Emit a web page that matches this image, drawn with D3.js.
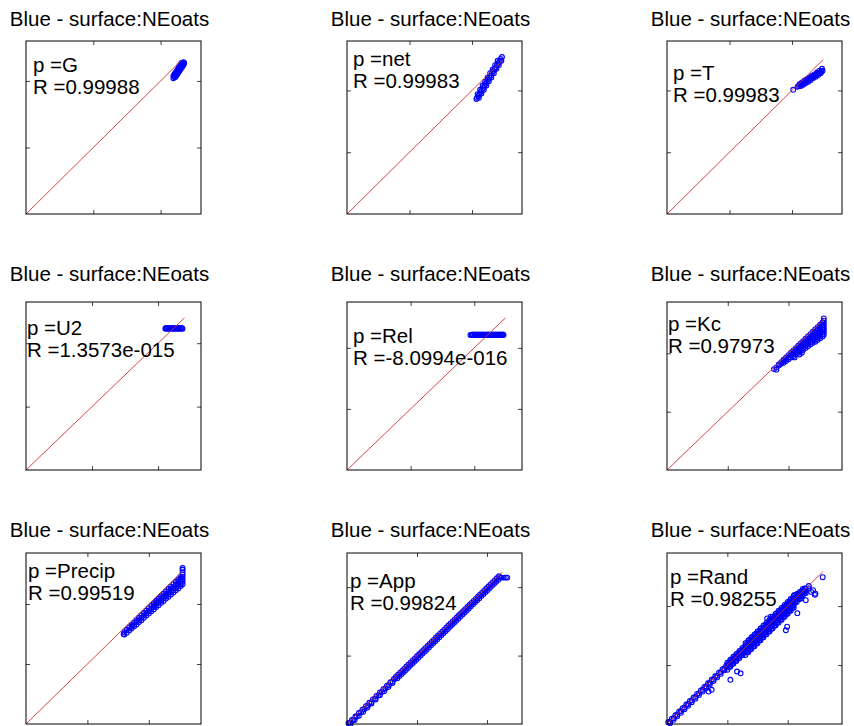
<!DOCTYPE html>
<html>
<head>
<meta charset="utf-8">
<script src="https://cdn.jsdelivr.net/npm/d3@7"></script>
<style>
  body { margin: 0; background: #fff; }
  svg { display: block; font-family: "Liberation Sans", Arial, sans-serif; }
</style>
</head>
<body>
<div id="chart"></div>
<script>
// Panel texts
var titleText = "Blue - surface:NEoats";
var params = ["G", "net", "T", "U2", "Rel", "Kc", "Precip", "App", "Rand"];
var rValues = ["0.99988", "0.99983", "0.99983", "1.3573e-015", "-8.0994e-016",
  "0.97973", "0.99519", "0.99824", "0.98255"];

// Axis limits (both axes start at 0), tick values and 1:1 reference line end
var axisMax = [2.6, 2.8, 2.8, 2.65, 2.75, 2.88, 2.85, 2.5, 2.9];
var lineEnd = [2.31, 2.49, 2.5, 2.4, 2.49, 2.6, 2.55, 2.22, 2.58];
var tickValues = [1, 2];

// Scatter values [x, y]
var pointsG = [[2.19,2.04],[2.20,2.06],[2.21,2.07],[2.22,2.09],[2.23,2.10],[2.24,2.12],[2.25,2.14],
  [2.26,2.15],[2.27,2.17],[2.28,2.18],[2.29,2.20],[2.30,2.22],[2.31,2.23],[2.32,2.25],[2.33,2.26],
  [2.34,2.28],
  [2.19,2.08],[2.21,2.11],[2.23,2.14],[2.25,2.17],[2.27,2.21],[2.29,2.24],[2.31,2.27],
  [2.22,2.06],[2.24,2.09],[2.26,2.12],[2.28,2.15],[2.30,2.18],[2.32,2.21],[2.34,2.24],[2.35,2.27]];

var pointsNet = [[2.07,1.86],[2.08,1.88],[2.10,1.91],[2.12,1.94],[2.14,1.98],[2.16,2.01],[2.18,2.04],
  [2.20,2.08],[2.22,2.11],[2.24,2.14],[2.26,2.18],[2.28,2.21],[2.30,2.24],[2.32,2.28],[2.34,2.31],
  [2.36,2.34],[2.38,2.37],[2.40,2.41],[2.42,2.44],[2.44,2.47],[2.46,2.51],[2.48,2.54],
  [2.11,1.88],[2.15,1.95],[2.19,2.01],[2.23,2.08],[2.27,2.15],[2.31,2.21],[2.35,2.28],[2.39,2.35],
  [2.43,2.41],[2.47,2.48],
  [2.09,1.94],[2.13,2.01],[2.17,2.08],[2.21,2.14],[2.25,2.21],[2.29,2.28],[2.33,2.34],[2.37,2.41],
  [2.41,2.48]];

var pointsT = [[2.02,2.01],[2.09,2.06],[2.11,2.07],[2.13,2.09],[2.15,2.10],[2.17,2.11],[2.19,2.12],
  [2.21,2.14],[2.23,2.15],[2.25,2.16],[2.27,2.18],[2.29,2.19],[2.31,2.20],[2.33,2.22],[2.35,2.23],
  [2.37,2.24],[2.39,2.26],[2.41,2.27],[2.43,2.28],[2.45,2.29],[2.47,2.31],[2.49,2.32],
  [2.12,2.10],[2.16,2.13],[2.20,2.16],[2.24,2.18],[2.28,2.21],[2.32,2.24],[2.36,2.26],[2.40,2.29],
  [2.44,2.32],[2.48,2.35],
  [2.14,2.07],[2.18,2.09],[2.22,2.12],[2.26,2.14],[2.30,2.17],[2.34,2.20],[2.38,2.22],[2.42,2.25],
  [2.46,2.28]];

var pointsU2 = [[2.11,2.23],[2.13,2.23],[2.15,2.23],[2.17,2.23],[2.19,2.23],[2.21,2.23],[2.23,2.23],
  [2.25,2.23],[2.27,2.23],[2.29,2.23],[2.31,2.23],[2.33,2.23],[2.35,2.23],[2.37,2.23],
  [2.12,2.24],[2.16,2.24],[2.20,2.24],[2.24,2.24],[2.28,2.24],[2.32,2.24],[2.36,2.24]];

var pointsRel = [[1.94,2.21],[1.96,2.21],[1.98,2.21],[2.00,2.21],[2.02,2.21],[2.04,2.21],[2.06,2.21],
  [2.08,2.21],[2.10,2.21],[2.12,2.21],[2.14,2.21],[2.16,2.21],[2.18,2.21],[2.20,2.21],[2.22,2.21],
  [2.24,2.21],[2.26,2.21],[2.28,2.21],[2.30,2.21],[2.32,2.21],[2.34,2.21],[2.36,2.21],[2.38,2.21],
  [2.40,2.21],[2.42,2.21],[2.44,2.21],[2.46,2.21],
  [1.97,2.22],[2.01,2.22],[2.05,2.22],[2.09,2.22],[2.13,2.22],[2.17,2.22],[2.21,2.22],[2.25,2.22],
  [2.29,2.22],[2.33,2.22],[2.37,2.22],[2.41,2.22],[2.45,2.22]];

var pointsKc = [[1.76,1.73],[1.80,1.76],[1.84,1.79],[1.84,1.81],[1.88,1.82],[1.88,1.85],
  [1.92,1.84],[1.92,1.87],[1.92,1.89],[1.96,1.87],[1.96,1.90],[1.96,1.93],
  [2.00,1.90],[2.00,1.93],[2.00,1.97],[2.04,1.93],[2.04,1.97],[2.04,2.01],
  [2.08,1.95],[2.08,1.99],[2.08,2.02],[2.08,2.05],[2.12,1.98],[2.12,2.02],[2.12,2.06],[2.12,2.09],
  [2.16,2.01],[2.16,2.05],[2.16,2.09],[2.16,2.13],[2.20,2.04],[2.20,2.08],[2.20,2.12],[2.20,2.17],
  [2.24,2.06],[2.24,2.10],[2.24,2.14],[2.24,2.18],[2.24,2.21],
  [2.28,2.09],[2.28,2.13],[2.28,2.17],[2.28,2.21],[2.28,2.25],
  [2.32,2.12],[2.32,2.16],[2.32,2.20],[2.32,2.25],[2.32,2.29],
  [2.36,2.15],[2.36,2.19],[2.36,2.23],[2.36,2.28],[2.36,2.33],
  [2.40,2.18],[2.40,2.22],[2.40,2.26],[2.40,2.30],[2.40,2.34],[2.40,2.37],
  [2.44,2.20],[2.44,2.24],[2.44,2.28],[2.44,2.32],[2.44,2.36],[2.44,2.41],
  [2.48,2.23],[2.48,2.27],[2.48,2.31],[2.48,2.35],[2.48,2.40],[2.48,2.45],
  [2.52,2.26],[2.52,2.30],[2.52,2.34],[2.52,2.38],[2.52,2.42],[2.52,2.46],[2.52,2.49],
  [2.56,2.29],[2.56,2.33],[2.56,2.37],[2.56,2.41],[2.56,2.45],[2.56,2.49],[2.56,2.53],
  [2.58,2.32],[2.58,2.36],[2.58,2.40],[2.58,2.44],[2.58,2.48],[2.58,2.52],[2.58,2.56],[2.58,2.60],
  [2.10,1.93],[2.18,1.98],[2.22,2.01],[1.80,1.72]];

var pointsPrecip = [[1.59,1.50],[1.60,1.49],[1.60,1.53],[1.64,1.52],[1.64,1.57],[1.68,1.56],[1.68,1.61],
  [1.72,1.59],[1.72,1.62],[1.72,1.65],[1.76,1.63],[1.76,1.66],[1.76,1.69],
  [1.80,1.66],[1.80,1.70],[1.80,1.73],[1.84,1.70],[1.84,1.73],[1.84,1.77],
  [1.88,1.73],[1.88,1.77],[1.88,1.81],[1.92,1.77],[1.92,1.81],[1.92,1.85],
  [1.96,1.81],[1.96,1.85],[1.96,1.89],[2.00,1.84],[2.00,1.88],[2.00,1.93],
  [2.04,1.88],[2.04,1.92],[2.04,1.97],[2.08,1.91],[2.08,1.95],[2.08,1.98],[2.08,2.01],
  [2.12,1.95],[2.12,1.98],[2.12,2.02],[2.12,2.05],[2.16,1.98],[2.16,2.02],[2.16,2.06],[2.16,2.09],
  [2.20,2.02],[2.20,2.06],[2.20,2.10],[2.20,2.13],[2.24,2.05],[2.24,2.09],[2.24,2.13],[2.24,2.17],
  [2.28,2.09],[2.28,2.13],[2.28,2.17],[2.28,2.21],[2.32,2.12],[2.32,2.16],[2.32,2.21],[2.32,2.25],
  [2.36,2.16],[2.36,2.20],[2.36,2.25],[2.36,2.29],[2.40,2.19],[2.40,2.23],[2.40,2.28],[2.40,2.33],
  [2.44,2.23],[2.44,2.27],[2.44,2.32],[2.44,2.37],
  [2.48,2.26],[2.48,2.30],[2.48,2.34],[2.48,2.38],[2.48,2.41],
  [2.52,2.30],[2.52,2.34],[2.52,2.38],[2.52,2.42],[2.52,2.45],
  [2.55,2.33],[2.55,2.37],[2.55,2.41],[2.55,2.45],[2.55,2.49],[2.55,2.53],[2.55,2.57],[2.55,2.60]];

var pointsApp = [[0.02,0.01],[0.07,0.06],[0.12,0.11],[0.17,0.16],[0.22,0.21],[0.27,0.26],[0.32,0.31],
  [0.37,0.36],[0.42,0.41],[0.47,0.46],[0.52,0.51],[0.57,0.56],[0.62,0.61],[0.67,0.66],
  [0.05,0.00],[0.11,0.06],[0.17,0.12],[0.23,0.18],[0.29,0.24],[0.35,0.30],[0.41,0.36],[0.47,0.42],
  [0.53,0.48],[0.59,0.54],[0.65,0.60],
  [0.04,0.02],[0.09,0.06],[0.14,0.11],[0.20,0.17],[0.25,0.22],[0.30,0.27],[0.35,0.32],[0.40,0.37],
  [0.45,0.42],[0.50,0.47],[0.55,0.52],[0.60,0.57],[0.65,0.62],[0.69,0.66],
  [0.70,0.69],[0.73,0.72],[0.76,0.75],[0.79,0.78],[0.82,0.81],[0.85,0.84],[0.88,0.87],[0.91,0.90],
  [0.94,0.93],[0.97,0.96],[1.00,0.99],[1.03,1.02],[1.06,1.05],[1.09,1.08],[1.12,1.11],[1.15,1.14],
  [1.18,1.17],[1.21,1.20],[1.24,1.23],[1.27,1.26],[1.30,1.29],[1.33,1.32],[1.36,1.35],[1.39,1.38],
  [1.42,1.41],[1.45,1.44],[1.48,1.47],[1.51,1.50],[1.54,1.53],[1.57,1.56],[1.60,1.59],[1.63,1.62],
  [1.66,1.65],[1.69,1.68],[1.72,1.71],[1.75,1.74],[1.78,1.77],[1.81,1.80],[1.84,1.83],[1.87,1.86],
  [1.90,1.89],[1.93,1.92],[1.96,1.95],[1.99,1.98],[2.02,2.01],[2.05,2.04],[2.08,2.07],[2.11,2.10],
  [2.14,2.13],[2.17,2.16],
  [0.72,0.67],[0.75,0.70],[0.78,0.73],[0.81,0.76],[0.84,0.79],[0.87,0.82],[0.90,0.85],[0.93,0.88],
  [0.96,0.91],[0.99,0.94],[1.02,0.97],[1.05,1.00],[1.08,1.03],[1.11,1.06],[1.14,1.09],[1.17,1.12],
  [1.20,1.15],[1.23,1.18],[1.26,1.21],[1.29,1.24],[1.32,1.27],[1.35,1.30],[1.38,1.33],[1.41,1.36],
  [1.44,1.39],[1.47,1.42],[1.50,1.45],[1.53,1.48],[1.56,1.51],[1.59,1.54],[1.62,1.57],[1.65,1.60],
  [1.68,1.63],[1.71,1.66],[1.74,1.69],[1.77,1.72],[1.80,1.75],[1.83,1.78],[1.86,1.81],[1.89,1.84],
  [1.92,1.87],[1.95,1.90],[1.98,1.93],[2.01,1.96],[2.04,1.99],[2.07,2.02],[2.10,2.05],[2.13,2.08],
  [2.16,2.11],
  [2.19,2.14],[2.21,2.14],[2.24,2.14],[2.27,2.14],[2.29,2.14]];

var pointsRand = [[0.02,0.03],[0.08,0.09],[0.14,0.15],[0.20,0.21],[0.26,0.27],[0.32,0.33],[0.38,0.39],
  [0.44,0.45],[0.50,0.51],[0.56,0.57],[0.62,0.63],[0.68,0.69],[0.74,0.75],[0.80,0.81],[0.86,0.87],
  [0.92,0.93],[0.98,0.99],
  [0.05,0.01],[0.11,0.07],[0.17,0.13],[0.23,0.19],[0.29,0.25],[0.35,0.31],[0.41,0.37],[0.47,0.43],
  [0.53,0.49],[0.59,0.55],[0.65,0.61],[0.71,0.67],[0.77,0.73],[0.83,0.79],[0.89,0.85],[0.95,0.91],
  [0.05,0.04],[0.11,0.10],[0.17,0.16],[0.23,0.22],[0.29,0.28],[0.35,0.34],[0.41,0.40],[0.47,0.46],
  [0.53,0.52],[0.59,0.58],[0.65,0.64],[0.71,0.70],[0.77,0.76],[0.83,0.82],[0.89,0.88],[0.95,0.94],
  [1.00,0.92],[1.00,0.96],[1.00,1.00],[1.00,1.04],[1.05,0.97],[1.05,1.01],[1.05,1.05],[1.05,1.09],
  [1.10,1.02],[1.10,1.06],[1.10,1.10],[1.10,1.14],[1.15,1.07],[1.15,1.11],[1.15,1.15],[1.15,1.19],
  [1.20,1.12],[1.20,1.16],[1.20,1.20],[1.20,1.24],[1.25,1.17],[1.25,1.21],[1.25,1.25],[1.25,1.29],
  [1.03,0.97],[1.03,1.01],[1.03,1.05],[1.08,1.02],[1.08,1.06],[1.08,1.10],[1.13,1.07],[1.13,1.11],
  [1.13,1.15],[1.18,1.12],[1.18,1.16],[1.18,1.20],[1.23,1.17],[1.23,1.21],[1.23,1.25],[1.28,1.22],
  [1.28,1.26],[1.28,1.30],
  [1.30,1.17],[1.30,1.21],[1.30,1.25],[1.30,1.29],[1.30,1.33],[1.30,1.37],
  [1.35,1.22],[1.35,1.26],[1.35,1.30],[1.35,1.34],[1.35,1.38],[1.35,1.42],
  [1.40,1.27],[1.40,1.31],[1.40,1.35],[1.40,1.39],[1.40,1.43],[1.40,1.47],
  [1.45,1.32],[1.45,1.36],[1.45,1.40],[1.45,1.44],[1.45,1.48],[1.45,1.52],
  [1.50,1.37],[1.50,1.41],[1.50,1.45],[1.50,1.49],[1.50,1.53],[1.50,1.57],
  [1.55,1.42],[1.55,1.46],[1.55,1.50],[1.55,1.54],[1.55,1.58],[1.55,1.62],
  [1.60,1.47],[1.60,1.51],[1.60,1.55],[1.60,1.59],[1.60,1.63],[1.60,1.67],
  [1.65,1.52],[1.65,1.56],[1.65,1.60],[1.65,1.64],[1.65,1.68],[1.65,1.72],
  [1.70,1.57],[1.70,1.61],[1.70,1.65],[1.70,1.69],[1.70,1.73],[1.70,1.77],
  [1.75,1.62],[1.75,1.66],[1.75,1.70],[1.75,1.74],[1.75,1.78],[1.75,1.82],
  [1.80,1.67],[1.80,1.71],[1.80,1.75],[1.80,1.79],[1.80,1.83],[1.80,1.87],
  [1.85,1.72],[1.85,1.76],[1.85,1.80],[1.85,1.84],[1.85,1.88],[1.85,1.92],
  [1.90,1.77],[1.90,1.81],[1.90,1.85],[1.90,1.89],[1.90,1.93],[1.90,1.97],
  [1.95,1.82],[1.95,1.86],[1.95,1.90],[1.95,1.94],[1.95,1.98],[1.95,2.02],
  [2.00,1.87],[2.00,1.91],[2.00,1.95],[2.00,1.99],[2.00,2.03],[2.00,2.07],
  [2.05,1.92],[2.05,1.96],[2.05,2.00],[2.05,2.04],[2.05,2.08],[2.05,2.12],
  [2.10,1.97],[2.10,2.01],[2.10,2.05],[2.10,2.09],[2.10,2.13],[2.10,2.17],
  [1.33,1.22],[1.33,1.26],[1.33,1.30],[1.33,1.34],[1.33,1.38],
  [1.38,1.27],[1.38,1.31],[1.38,1.35],[1.38,1.39],[1.38,1.43],
  [1.43,1.32],[1.43,1.36],[1.43,1.40],[1.43,1.44],[1.43,1.48],
  [1.48,1.37],[1.48,1.41],[1.48,1.45],[1.48,1.49],[1.48,1.53],
  [1.53,1.42],[1.53,1.46],[1.53,1.50],[1.53,1.54],[1.53,1.58],
  [1.58,1.47],[1.58,1.51],[1.58,1.55],[1.58,1.59],[1.58,1.63],
  [1.63,1.52],[1.63,1.56],[1.63,1.60],[1.63,1.64],[1.63,1.68],
  [1.68,1.57],[1.68,1.61],[1.68,1.65],[1.68,1.69],[1.68,1.73],
  [1.73,1.62],[1.73,1.66],[1.73,1.70],[1.73,1.74],[1.73,1.78],
  [1.78,1.67],[1.78,1.71],[1.78,1.75],[1.78,1.79],[1.78,1.83],
  [1.83,1.72],[1.83,1.76],[1.83,1.80],[1.83,1.84],[1.83,1.88],
  [1.88,1.77],[1.88,1.81],[1.88,1.85],[1.88,1.89],[1.88,1.93],
  [1.93,1.82],[1.93,1.86],[1.93,1.90],[1.93,1.94],[1.93,1.98],
  [1.98,1.87],[1.98,1.91],[1.98,1.95],[1.98,1.99],[1.98,2.03],
  [2.03,1.92],[2.03,1.96],[2.03,2.00],[2.03,2.04],[2.03,2.08],
  [2.08,1.97],[2.08,2.01],[2.08,2.05],[2.08,2.09],[2.08,2.13],
  [2.15,2.07],[2.15,2.11],[2.15,2.15],[2.15,2.19],[2.20,2.12],[2.20,2.16],[2.20,2.20],[2.20,2.24],
  [2.25,2.17],[2.25,2.21],[2.25,2.25],[2.25,2.29],[2.30,2.22],[2.30,2.26],[2.30,2.30],
  [2.13,2.07],[2.13,2.11],[2.13,2.15],[2.18,2.12],[2.18,2.16],[2.18,2.20],[2.23,2.17],[2.23,2.21],
  [2.23,2.25],[2.28,2.22],[2.28,2.26],[2.28,2.30],
  [2.35,2.30],[2.35,2.34],
  [2.58,2.49],[2.39,2.24],[2.45,2.19],[2.30,2.10],[2.22,2.13],[2.16,1.88],[1.97,1.59],[1.99,1.65],
  [1.22,0.86],[1.16,0.89],[1.05,0.75],[0.69,0.55],[0.74,0.58],[1.72,1.82],[1.66,1.79],[2.16,2.21],
  [2.11,2.19],[2.42,2.27],[2.46,2.21]];

var panelPoints = [pointsG, pointsNet, pointsT, pointsU2, pointsRel, pointsKc,
  pointsPrecip, pointsApp, pointsRand];

// Layout of the 3x3 subplot grid
var svgWidth = 854;
var svgHeight = 726;
var colLeft = [26, 347, 667];
var boxWidth = 175;
var rowTop = [41, 302, 553];
var rowHeight = [173, 168, 171];
var titleBase = [26, 281, 537];
var titleShift = -4;
// text offset from the box's top-left corner (first line baseline)
var labelOffset = [[7, 31], [6, 25], [6, 39], [1, 33], [6, 41], [1, 29], [2, 25], [3, 35], [3, 31]];
var lineGap = 22;

var svg = d3.select("#chart")
  .append("svg")
  .attr("width", svgWidth)
  .attr("height", svgHeight);

svg.append("rect")
  .attr("width", svgWidth)
  .attr("height", svgHeight)
  .attr("fill", "#fff");

params.forEach(function(p, i) {
  var row = Math.floor(i / 3);
  var col = i % 3;
  var w = boxWidth;
  var h = rowHeight[row];

  var g = svg.append("g")
    .attr("transform", `translate(${colLeft[col]}, ${rowTop[row]})`);

  var x = d3.scaleLinear().domain([0, axisMax[i]]).range([0, w]);
  var y = d3.scaleLinear().domain([0, axisMax[i]]).range([h, 0]);

  // inward ticks on all four sides, no labels
  var axes = [
    { axis: d3.axisBottom(x), t: `translate(0, ${h})` },
    { axis: d3.axisTop(x), t: "translate(0, 0)" },
    { axis: d3.axisLeft(y), t: "translate(0, 0)" },
    { axis: d3.axisRight(y), t: `translate(${w}, 0)` }
  ];
  axes.forEach(function(a) {
    var ag = g.append("g")
      .attr("transform", a.t)
      .call(a.axis.tickValues(tickValues).tickSizeInner(-4).tickSizeOuter(0).tickFormat(""));
    ag.select(".domain").remove();
    ag.selectAll("line").attr("stroke", "#444");
  });

  // scatter markers
  g.append("g")
    .selectAll("circle")
    .data(panelPoints[i])
    .enter()
    .append("circle")
    .attr("cx", d => x(d[0]))
    .attr("cy", d => y(d[1]))
    .attr("r", 2.4)
    .attr("fill", "none")
    .attr("stroke", "#0000ff")
    .attr("stroke-width", 1.1);

  // 1:1 line
  g.append("line")
    .attr("x1", x(0))
    .attr("y1", y(0))
    .attr("x2", x(lineEnd[i]))
    .attr("y2", y(lineEnd[i]))
    .attr("stroke", "#d03030")
    .attr("stroke-width", 0.9);

  // axes box
  g.append("rect")
    .attr("x", 0)
    .attr("y", 0)
    .attr("width", w)
    .attr("height", h)
    .attr("fill", "none")
    .attr("stroke", "#000")
    .attr("stroke-width", 1);

  // parameter text
  var txt = g.append("text")
    .attr("font-size", "20.5px")
    .attr("fill", "#000");
  txt.append("tspan")
    .attr("x", labelOffset[i][0])
    .attr("y", labelOffset[i][1])
    .text("p =" + p);
  txt.append("tspan")
    .attr("x", labelOffset[i][0])
    .attr("y", labelOffset[i][1] + lineGap)
    .text("R =" + rValues[i]);

  // title
  svg.append("text")
    .attr("x", colLeft[col] + w / 2 + titleShift)
    .attr("y", titleBase[row])
    .attr("text-anchor", "middle")
    .attr("font-size", "20.5px")
    .attr("fill", "#000")
    .text(titleText);
});
</script>
</body>
</html>
